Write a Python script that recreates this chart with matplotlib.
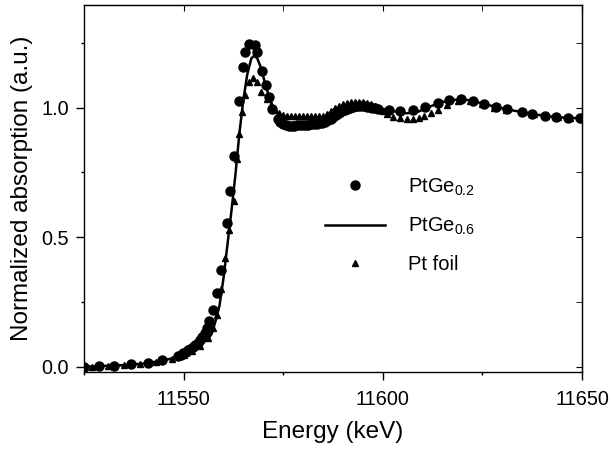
import matplotlib
matplotlib.use("Agg")
import matplotlib.pyplot as plt
from matplotlib.ticker import MultipleLocator

plt.rcParams['font.family'] = ['Liberation Sans', 'DejaVu Sans']
plt.rcParams['mathtext.fontset'] = 'custom'
plt.rcParams['mathtext.rm'] = 'Liberation Sans'

# PtGe0.2 (circles)
e_ptge02 = [11525.0, 11528.8, 11532.5, 11536.9, 11541.1, 11544.5, 11548.7,
            11549.3, 11549.9, 11550.5, 11551.1, 11551.7, 11552.3, 11552.9,
            11553.5, 11554.1, 11554.7, 11555.3, 11555.9, 11556.5, 11557.5,
            11558.3, 11559.4, 11560.8, 11561.6, 11562.7, 11563.8, 11564.9,
            11565.5, 11566.5, 11567.9, 11568.5, 11569.8, 11570.6, 11571.5,
            11572.3, 11573.6,
            11574.3, 11575.0, 11575.7, 11576.4, 11577.1, 11577.8, 11578.5,
            11579.2, 11579.9, 11580.6, 11581.3, 11582.0, 11582.7, 11583.4,
            11584.1, 11584.8, 11585.5, 11586.2, 11586.9, 11587.6, 11588.3,
            11589.0, 11589.7, 11590.4, 11591.1, 11591.8, 11592.5, 11593.2,
            11593.9, 11594.6, 11595.3, 11596.0, 11596.7, 11597.4, 11598.1,
            11598.8,
            11601.6, 11604.4, 11607.7, 11610.5, 11613.9, 11616.6, 11619.6,
            11622.7, 11625.3, 11628.4, 11631.2, 11634.9, 11637.5, 11640.6,
            11643.5, 11646.5, 11649.4]
v_ptge02 = [0.000, 0.003, 0.004, 0.009, 0.015, 0.027, 0.042,
            0.046, 0.051, 0.057, 0.063, 0.070, 0.077, 0.085,
            0.093, 0.103, 0.115, 0.130, 0.150, 0.175, 0.219,
            0.286, 0.375, 0.556, 0.677, 0.815, 1.027, 1.158,
            1.213, 1.247, 1.243, 1.215, 1.142, 1.088, 1.040,
            0.995, 0.957,
            0.945, 0.937, 0.932, 0.930, 0.929, 0.930, 0.931,
            0.932, 0.933, 0.934, 0.934, 0.935, 0.936, 0.937,
            0.939, 0.942, 0.946, 0.951, 0.957, 0.964, 0.971,
            0.978, 0.985, 0.991, 0.996, 1.000, 1.003, 1.005,
            1.006, 1.006, 1.005, 1.003, 1.001, 0.999, 0.997,
            0.995,
            0.991, 0.988, 0.992, 1.004, 1.018, 1.028, 1.033,
            1.027, 1.014, 1.002, 0.993, 0.983, 0.976, 0.969,
            0.963, 0.960, 0.960]

# PtGe0.6 (solid line)
e_ptge06 = [11525, 11530, 11535, 11540, 11545, 11548, 11550, 11552, 11553,
            11554, 11555, 11556, 11557, 11558, 11559, 11560, 11561, 11562,
            11563, 11564, 11565, 11566, 11567, 11567.7, 11568.5, 11569.5,
            11570.5, 11571.5, 11572.5, 11573.5, 11575, 11577, 11580, 11583,
            11585, 11587, 11589, 11591, 11593, 11595, 11597, 11600, 11603,
            11606, 11609, 11612, 11615, 11618, 11621, 11624, 11627, 11630,
            11633, 11636, 11639, 11642, 11645, 11648, 11650]
v_ptge06 = [0.0, 0.003, 0.006, 0.012, 0.024, 0.036, 0.047, 0.062, 0.072,
            0.085, 0.095, 0.105, 0.125, 0.175, 0.235, 0.34, 0.47, 0.60,
            0.74, 0.90, 1.03, 1.13, 1.19, 1.20, 1.19, 1.15,
            1.09, 1.04, 1.00, 0.978, 0.964, 0.960, 0.958, 0.958,
            0.962, 0.972, 0.987, 0.999, 1.006, 1.008, 1.005, 0.995, 0.985,
            0.978, 0.985, 1.005, 1.022, 1.030, 1.030, 1.020, 1.008, 0.997,
            0.988, 0.980, 0.972, 0.966, 0.962, 0.960, 0.958]

# Pt foil (triangles)
e_ptfoil = [11527, 11531, 11535, 11539, 11543, 11547, 11550, 11552, 11554,
            11556, 11557.5, 11558.5, 11559.5, 11560.5, 11561.4, 11562.7,
            11563.3, 11564.0, 11564.7, 11565.4, 11566.5, 11567.5, 11568.5,
            11569.5, 11571, 11572, 11573, 11574, 11575, 11576, 11577, 11578,
            11579, 11580, 11581, 11582, 11583, 11584, 11585, 11586, 11587,
            11588, 11589, 11590, 11591, 11592, 11593, 11594, 11595, 11596,
            11597, 11598, 11599, 11600, 11601, 11602.5, 11604.4, 11606,
            11607.7, 11609, 11610.4, 11612, 11613.8, 11616, 11619, 11622,
            11625, 11628, 11631, 11635, 11638, 11641, 11644, 11647, 11650]
v_ptfoil = [0.0, 0.003, 0.006, 0.010, 0.018, 0.030, 0.045, 0.060, 0.080,
            0.110, 0.150, 0.200, 0.300, 0.420, 0.527, 0.640,
            0.800, 0.900, 0.982, 1.050, 1.100, 1.115, 1.100,
            1.060, 1.033, 1.010, 0.990, 0.980, 0.972, 0.969, 0.968, 0.968,
            0.968, 0.968, 0.968, 0.968, 0.967, 0.967, 0.968, 0.975, 0.988,
            1.000, 1.008, 1.013, 1.017, 1.020, 1.022, 1.022, 1.020, 1.018,
            1.013, 1.005, 0.995, 0.985, 0.975, 0.965, 0.960, 0.956,
            0.956, 0.960, 0.966, 0.978, 0.990, 1.010, 1.025, 1.025,
            1.012, 1.000, 0.990, 0.983, 0.975, 0.968, 0.962, 0.958, 0.957]

fig = plt.figure(figsize=(6.11, 4.5), dpi=100)
ax = fig.add_axes([0.1375, 0.1727, 0.815, 0.8156])

ax.plot(e_ptge02, v_ptge02, 'o', color='black', ms=6.5, label=r'$\mathregular{PtGe_{0.2}}$')
ax.plot(e_ptge06, v_ptge06, '-', color='black', lw=1.8, label=r'$\mathregular{PtGe_{0.6}}$')
ax.plot(e_ptfoil, v_ptfoil, '^', color='black', ms=3.8, label='Pt foil')

ax.set_xlim(11525, 11650)
ax.set_ylim(-0.0216, 1.395)
ax.xaxis.set_major_locator(MultipleLocator(50))
ax.xaxis.set_minor_locator(MultipleLocator(25))
ax.yaxis.set_major_locator(MultipleLocator(0.5))
ax.yaxis.set_minor_locator(MultipleLocator(0.25))
ax.set_yticks([0.0, 0.5, 1.0])
ax.set_yticklabels(['0.0', '0.5', '1.0'])
ax.tick_params(which='both', direction='out', labelsize=14.3, width=1, pad=5.5)
ax.tick_params(axis='x', which='both', pad=7)
ax.tick_params(which='major', length=5.5)
ax.tick_params(which='minor', length=2.5)

top = ax.secondary_xaxis('top')
top.xaxis.set_major_locator(MultipleLocator(50))
top.xaxis.set_minor_locator(MultipleLocator(25))
top.tick_params(which='both', direction='in', labeltop=False, length=4)
right = ax.secondary_yaxis('right')
right.yaxis.set_major_locator(MultipleLocator(0.5))
right.yaxis.set_minor_locator(MultipleLocator(0.25))
right.tick_params(which='both', direction='in', labelright=False, length=4)

for s in ax.spines.values():
    s.set_linewidth(1.0)

ax.set_xlabel('Energy (keV)', fontsize=17.5, labelpad=9)
ax.set_ylabel('Normalized absorption (a.u.)', fontsize=17.5, labelpad=6)

ax.legend(loc='upper left', bbox_to_anchor=(0.484, 0.534), frameon=False,
          fontsize=14.5, handlelength=3, handletextpad=1.1, labelspacing=0.9,
          borderpad=0, borderaxespad=0)

fig.savefig('out.png', dpi=100)
